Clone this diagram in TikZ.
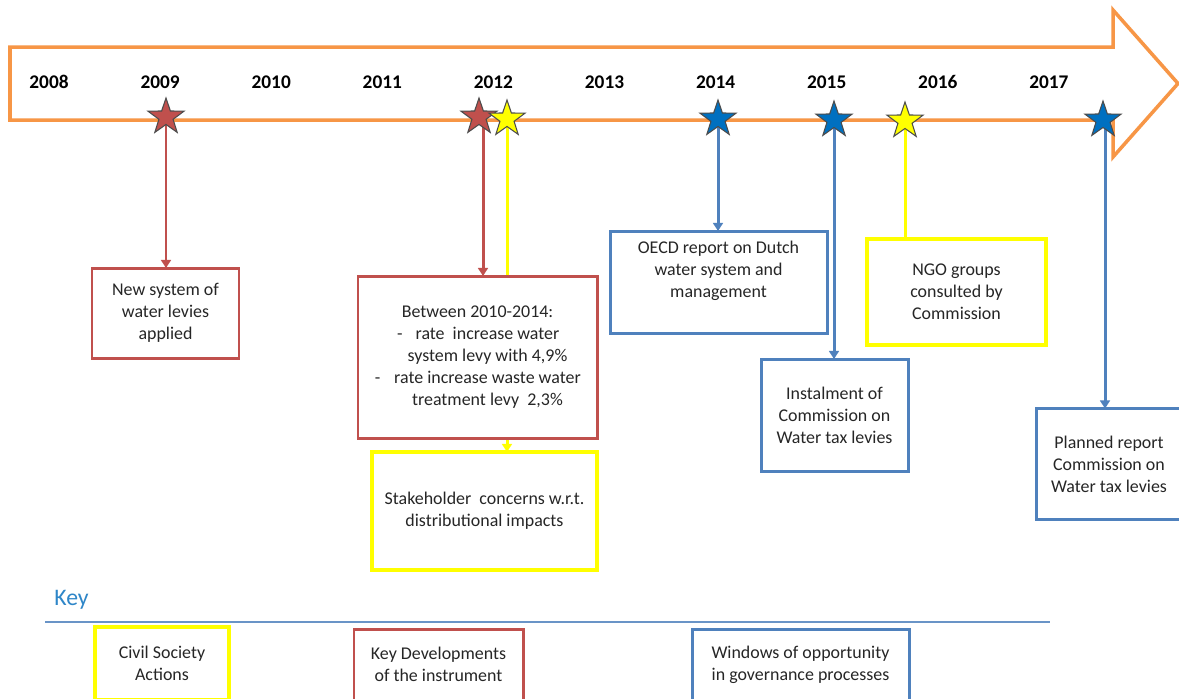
\documentclass[tikz,border=0pt]{standalone}
\usepackage{fontspec}
\setmainfont{Carlito}
\usetikzlibrary{shapes.geometric,arrows.meta}
\pgfdeclarelayer{bg}
\pgfsetlayers{bg,main}
\definecolor{orangeA}{HTML}{F79646}
\definecolor{redB}{HTML}{C0504D}
\definecolor{blueB}{HTML}{4F81BD}
\definecolor{yelB}{HTML}{FFFF00}
\definecolor{starblue}{HTML}{0070C0}
\definecolor{keyblue}{HTML}{2E86C8}
\definecolor{txtc}{HTML}{262626}
\newlength\pxl
\setlength\pxl{0.567pt}
\tikzset{
  wh/.style 2 args={minimum width=#1*0.02cm, minimum height=#2*0.02cm},
  box/.style={draw, fill=white, line width=1.7pt, inner sep=0pt, outer sep=0pt, align=center,
    font=\fontsize{10.2}{12.5}\selectfont, text=txtc},
  redbox/.style={box, draw=redB},
  bluebox/.style={box, draw=blueB},
  yelbox/.style={box, draw=yelB, line width=2pt},
  txt/.style={align=center, inner sep=0pt, font=\fontsize{10.2}{12.5}\selectfont, text=txtc},
  year/.style={font=\fontsize{11}{13}\selectfont\bfseries, text=black, inner sep=0pt},
  starn/.style={star, star points=5, star point ratio=2.55, minimum size=0.76cm, inner sep=0pt,
    draw=black!70, line width=0.6pt},
  conn/.style={line width=1.7pt, -{Triangle[width=5.6pt,length=4.6pt]}},
  plain/.style={line width=1.7pt}
}
\begin{document}
\begin{tikzpicture}[x=0.02cm,y=-0.02cm]
\useasboundingbox (0,0) rectangle (1179,698);

% boxes
\node[redbox, wh={147}{90}] (b2009) at (165.5,313) {New system of\\water levies\\applied};
\node[redbox, wh={239}{162}] (bred) at (477.5,357) {Between 2010-2014:\\
\hspace*{20\pxl}\llap{-\hspace{13\pxl}}rate~ increase water\\
\hspace*{20\pxl}system levy with 4,9\%\\
\hspace*{20\pxl}\llap{-\hspace{14\pxl}}rate increase waste water\\
\hspace*{20\pxl}treatment levy~ 2,3\%};
\node[yelbox, wh={225}{118}] (bstake) at (484.5,511) {Stakeholder~ concerns w.r.t.\\distributional impacts};
\node[bluebox, wh={217}{102}] (boecd) at (718.5,282) {};
\node[txt] (toecd) at (718.5,271) {OECD report on Dutch\\water system and\\management};
\node[yelbox, wh={179}{106}] (bngo) at (956.5,292) {NGO groups\\consulted by\\Commission};
\node[bluebox, wh={147}{112}] (binst) at (834.5,415) {Instalment of\\Commission on\\Water tax levies};
\node[bluebox, wh={146}{111}] (bplan) at (1109,464) {Planned report\\Commission on\\Water tax levies};

% years
\foreach \yr [count=\i from 0] in {2008,2009,2010,2011,2012,2013,2014,2015,2016,2017}
  \node[year] (y\yr) at (49+111.1*\i,82) {\yr};

% stars
\node[starn, fill=redB] (s2009) at (166,117) {};
\node[starn, fill=redB] (s2012r) at (479,117) {};
\node[starn, fill=yelB] (s2012y) at (507,119) {};
\node[starn, fill=starblue] (s2014) at (718,119) {};
\node[starn, fill=starblue] (s2015) at (834,120) {};
\node[starn, fill=yelB] (s2016) at (905,121) {};
\node[starn, fill=starblue] (s2017) at (1103,120) {};

% key
\node[anchor=west, inner sep=0pt, text=keyblue, font=\fontsize{13.5}{16}\selectfont] (key) at (54,600) {Key};
\draw[blueB!85, line width=0.9pt] (45,622) -- (1050,622);
\node[yelbox, wh={134}{73}] (k1) at (162,663.5) {Civil Society\\Actions};
\node[redbox, wh={169}{71}] (k2) at (438.5,664.5) {Key Developments\\of the instrument};
\node[bluebox, wh={217}{71}] (k3) at (800.5,664.5) {Windows of opportunity\\in governance processes};

\begin{pgfonlayer}{bg}
\fill[white] (0,0) rectangle (1179,698);
\draw[orangeA, line width=2pt, line join=miter] (10,47) -- (1113,47) -- (1113,10) -- (1178,83.5)
  -- (1113,157) -- (1113,120) -- (10,120) -- cycle;
\draw[conn, redB] (s2009.center) -- (s2009.center |- b2009.north);
\draw[conn, redB] ([xshift=0.08cm]s2012r.center) -- ([xshift=0.08cm]s2012r.center |- bred.north);
\draw[conn, yelB] (s2012y.center) -- (s2012y.center |- bstake.north);
\draw[conn, blueB] (s2014.center) -- (s2014.center |- boecd.north);
\draw[conn, blueB] (s2015.center) -- (s2015.center |- binst.north);
\draw[plain, yelB] (s2016.center) -- (s2016.center |- bngo.north);
\draw[conn, blueB] ([xshift=0.04cm]s2017.center) -- ([xshift=0.04cm]s2017.center |- bplan.north);
\end{pgfonlayer}
\end{tikzpicture}
\end{document}
